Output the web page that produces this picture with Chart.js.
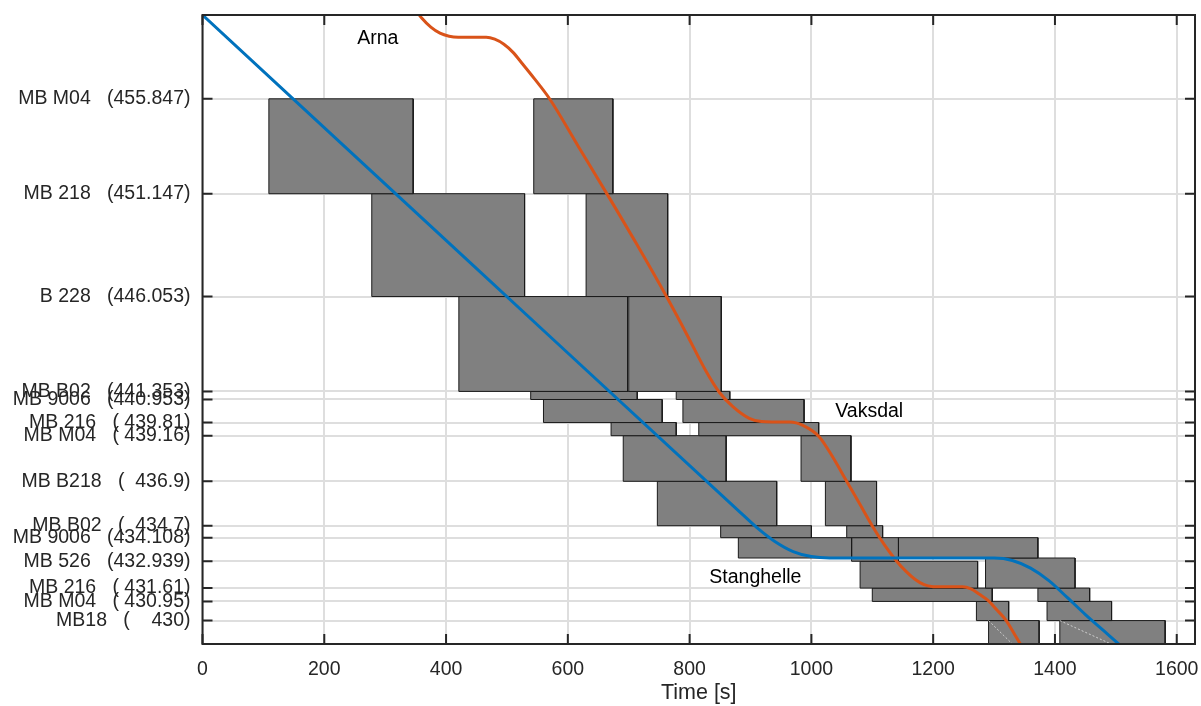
<!DOCTYPE html>
<html>
<head>
<meta charset="utf-8">
<script src="https://cdn.jsdelivr.net/npm/chart.js@4.4.0/dist/chart.umd.min.js"></script>
<style>
  html, body { margin: 0; padding: 0; background: #fff; }
  #wrap { position: relative; width: 1201px; height: 706px; }
</style>
</head>
<body>
<div id="wrap"><canvas id="blockChart"></canvas></div>
<script>
// stations (position) and their tick labels
var stationPos = [455.847, 451.147, 446.053, 441.353, 440.953, 439.81, 439.16, 436.9, 434.7, 434.108, 432.939, 431.61, 430.95, 430];
var stationLabels = [
  'MB M04   (455.847)',
  'MB 218   (451.147)',
  'B 228   (446.053)',
  'MB B02   (441.353)',
  'MB 9006   (440.953)',
  'MB 216   ( 439.81)',
  'MB M04   ( 439.16)',
  'MB B218   (  436.9)',
  'MB B02   (  434.7)',
  'MB 9006   (434.108)',
  'MB 526   (432.939)',
  'MB 216   ( 431.61)',
  'MB M04   ( 430.95)',
  'MB18   (    430)'
];
var timeTicks = [0, 200, 400, 600, 800, 1000, 1200, 1400, 1600];

// blocking time boxes
var blockStart  = [109, 544, 278, 630, 421, 700, 539, 778, 560, 789, 671, 815, 691, 983, 747, 1023, 851, 1058, 880, 1066, 1143, 1080, 1286, 1100, 1372, 1271, 1387, 1291, 1408];
var blockEnd    = [346, 674, 529, 764, 698, 852, 714, 866, 755, 988, 778, 1012, 860, 1065, 943, 1107, 1000, 1117, 1066, 1143, 1372, 1273, 1433, 1297, 1457, 1324, 1493, 1374, 1581];
var blockTop    = [455.847, 455.847, 451.147, 451.147, 446.053, 446.053, 441.353, 441.353, 440.953, 440.953, 439.81, 439.81, 439.16, 439.16, 436.9, 436.9, 434.7, 434.7, 434.108, 434.108, 434.108, 432.939, 433.1, 431.61, 431.61, 430.95, 430.95, 430, 430];
var blockBottom = [451.147, 451.147, 446.053, 446.053, 441.353, 441.353, 440.953, 440.953, 439.81, 439.81, 439.16, 439.16, 436.9, 436.9, 434.7, 434.7, 434.108, 434.108, 433.1, 432.939, 433.1, 431.61, 431.61, 430.95, 430.95, 430, 430, 428.5, 428.5];

// train paths
var blueTime = [0, 440, 880, 910, 940, 970, 1000, 1030, 1300, 1330, 1360, 1390, 1420, 1450, 1480, 1510, 1520];
var bluePos  = [460, 447.72, 435.45, 434.62, 433.92, 433.42, 433.17, 433.1, 433.1, 432.98, 432.6, 431.98, 431.15, 430.3, 429.5, 428.7, 428.43];
var orangeTime = [345, 360, 375, 390, 405, 420, 466, 480, 495, 510, 525, 545, 570, 617, 664, 713, 762, 795, 827, 849, 871, 898, 918, 935, 965, 986, 1013, 1035, 1057, 1079, 1101, 1120, 1139, 1155, 1170, 1185, 1200, 1210, 1248, 1262, 1276, 1290, 1304, 1320, 1335, 1350];
var orangePos  = [460.45, 459.85, 459.4, 459.1, 458.95, 458.9, 458.9, 458.8, 458.55, 458.15, 457.6, 456.85, 455.85, 453.5, 451.15, 448.65, 446.05, 444.2, 442.35, 441.3, 440.6, 440.02, 439.86, 439.84, 439.84, 439.67, 439.1, 438.1, 436.95, 435.8, 434.64, 433.75, 432.98, 432.45, 432.05, 431.78, 431.68, 431.67, 431.67, 431.57, 431.3, 431.0, 430.55, 430.0, 429.25, 428.5];

// faint running lines in the last block
var faintTime = [[1291, 1330], [1408, 1492]];
var faintPos  = [[430, 428.84], [430, 428.84]];

// station names
var placeNames = ['Arna', 'Vaksdal', 'Stanghelle'];
var placeTime = [288, 1095, 908];
var placePos = [458.83, 440.37, 432.15];

var fontFamily = "'Liberation Sans', Arial, Helvetica, sans-serif";

function pts(xs, ys) {
  return xs.map(function (x, i) { return { x: x, y: ys[i] }; });
}

var datasets = [
  {
    data: pts(blueTime, bluePos),
    borderColor: 'rgb(0,114,189)',
    borderWidth: 3,
    pointRadius: 0,
    cubicInterpolationMode: 'monotone',
    fill: false
  },
  {
    data: pts(orangeTime, orangePos),
    borderColor: 'rgb(217,83,25)',
    borderWidth: 3,
    pointRadius: 0,
    cubicInterpolationMode: 'monotone',
    fill: false
  }
];

faintTime.forEach(function (ft, i) {
  datasets.push({
    data: pts(ft, faintPos[i]),
    borderColor: 'rgba(215,215,215,0.9)',
    borderWidth: 1,
    borderDash: [2, 2],
    pointRadius: 0,
    fill: false
  });
});

for (var i = 0; i < blockStart.length; i++) {
  var s = blockStart[i], e = blockEnd[i], t = blockTop[i], b = blockBottom[i];
  datasets.push({
    data: [{ x: s, y: t }, { x: e, y: t }, { x: e, y: b }, { x: s, y: b }, { x: s, y: t }],
    borderColor: '#1a1a1a',
    borderWidth: 1,
    backgroundColor: 'rgb(128,128,128)',
    pointRadius: 0,
    tension: 0,
    fill: 'shape'
  });
}

// inward ticks and box around the axes
var frameTicks = {
  id: 'frameTicks',
  afterDraw: function (chart) {
    var ctx = chart.ctx, a = chart.chartArea;
    var xs = chart.scales.x, ys = chart.scales.y;
    ctx.save();
    ctx.strokeStyle = '#262626';
    ctx.lineWidth = 2;
    ctx.beginPath();
    xs.ticks.forEach(function (tk) {
      var px = xs.getPixelForValue(tk.value);
      ctx.moveTo(px, a.bottom); ctx.lineTo(px, a.bottom - 10);
      ctx.moveTo(px, a.top); ctx.lineTo(px, a.top + 10);
    });
    ys.ticks.forEach(function (tk) {
      var py = ys.getPixelForValue(tk.value);
      ctx.moveTo(a.left, py); ctx.lineTo(a.left + 10, py);
      ctx.moveTo(a.right, py); ctx.lineTo(a.right - 10, py);
    });
    ctx.stroke();
    ctx.strokeRect(a.left, a.top, a.right - a.left, a.bottom - a.top);
    ctx.restore();
  }
};

var placeText = {
  id: 'placeText',
  afterDatasetsDraw: function (chart) {
    var ctx = chart.ctx;
    ctx.save();
    ctx.fillStyle = '#000';
    ctx.font = '19.5px ' + fontFamily;
    ctx.textAlign = 'center';
    ctx.textBaseline = 'middle';
    placeNames.forEach(function (n, i) {
      ctx.fillText(n, chart.scales.x.getPixelForValue(placeTime[i]), chart.scales.y.getPixelForValue(placePos[i]));
    });
    ctx.restore();
  }
};

var ctx = document.getElementById('blockChart').getContext('2d');
var myChart = new Chart(ctx, {
  type: 'line',
  data: { datasets: datasets },
  options: {
    responsive: true,
    maintainAspectRatio: false,
    animation: false,
    layout: { autoPadding: false, padding: { left: 0, top: 15, right: 6, bottom: 0 } },
    plugins: {
      legend: { display: false },
      tooltip: { enabled: false }
    },
    scales: {
      x: {
        type: 'linear',
        min: 0,
        max: 1630,
        afterBuildTicks: function (sc) { sc.ticks = timeTicks.map(function (v) { return { value: v }; }); },
        afterFit: function (sc) { sc.height = 62; sc.paddingLeft = 0; sc.paddingRight = 0; },
        grid: { color: '#dedede', lineWidth: 2, drawTicks: false },
        border: { display: false },
        ticks: {
          color: '#262626',
          font: { family: fontFamily, size: 19.5 },
          padding: 14,
          maxRotation: 0,
          callback: function (v) { return String(v); }
        },
        title: { display: true, text: 'Time [s]', color: '#262626', font: { family: fontFamily, size: 21.5 }, padding: { top: 1, bottom: 0 } }
      },
      y: {
        type: 'linear',
        min: 428.84,
        max: 460,
        afterBuildTicks: function (sc) { sc.ticks = stationPos.map(function (v) { return { value: v }; }); },
        afterFit: function (sc) { sc.width = 202.5; sc.paddingTop = 0; sc.paddingBottom = 0; },
        grid: { color: '#dedede', lineWidth: 2, drawTicks: false },
        border: { display: false },
        ticks: {
          autoSkip: false,
          color: '#262626',
          font: { family: fontFamily, size: 19.5 },
          padding: 12,
          callback: function (v, i) { return stationLabels[i]; }
        }
      }
    }
  },
  plugins: [frameTicks, placeText]
});
</script>
</body>
</html>
